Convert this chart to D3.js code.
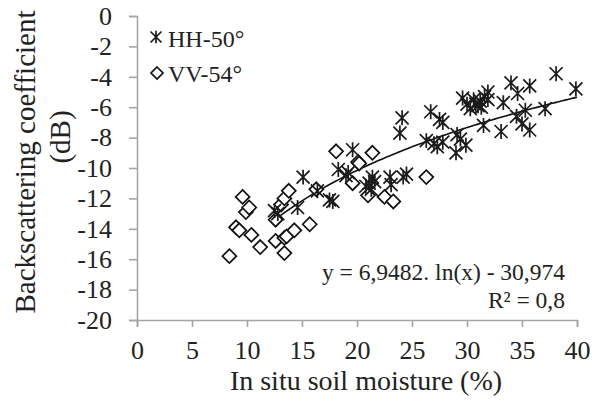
<!DOCTYPE html>
<html>
<head>
<meta charset="utf-8">
<script src="https://cdnjs.cloudflare.com/ajax/libs/d3/7.8.5/d3.min.js"></script>
<style>
body { margin:0; background:#fff; }
text { font-family: "Liberation Serif", "Times New Roman", serif; fill:#222; }
</style>
</head>
<body>
<script>
// HH-50 points [soil moisture %, dB]
var hhData = [
  [12.5,-12.8],[12.8,-13.0],[14.6,-12.6],[15.1,-10.6],[16.4,-11.5],[17.5,-12.1],[17.8,-12.2],
  [18.3,-10.1],[19.0,-10.5],[19.2,-10.3],[19.6,-8.8],[20.8,-11.2],[21.1,-11.0],[21.3,-11.4],
  [21.4,-10.6],[21.6,-10.9],[23.0,-10.6],[23.1,-11.1],[23.9,-7.7],[24.1,-6.7],[24.2,-10.6],
  [24.5,-10.4],[26.3,-8.2],[26.7,-6.3],[27.0,-8.4],[27.3,-8.6],[27.5,-6.8],[27.8,-7.0],
  [27.8,-8.3],[29.0,-9.0],[29.1,-7.8],[29.4,-8.1],[29.9,-8.5],[29.6,-5.4],[30.0,-5.8],
  [30.3,-6.1],[30.6,-5.5],[30.8,-5.8],[31.0,-5.9],[31.2,-5.6],[31.3,-6.0],[31.5,-7.2],
  [31.6,-5.3],[31.9,-5.0],[31.9,-5.5],[33.1,-7.6],[33.3,-5.7],[34.0,-4.4],[34.5,-6.6],
  [34.6,-5.1],[35.0,-7.1],[35.3,-6.2],[35.7,-4.6],[35.7,-7.5],[37.1,-6.1],[38.1,-3.8],[39.9,-4.8]
];
// VV-54 points
var vvData = [
  [8.4,-15.8],[9.0,-13.9],[9.3,-14.1],[9.6,-11.9],[9.9,-12.9],[10.2,-12.6],[10.4,-14.4],
  [11.2,-15.2],[12.6,-13.4],[12.6,-14.8],[13.1,-12.4],[13.4,-12.0],[13.4,-14.6],[13.4,-15.6],
  [13.6,-14.5],[13.8,-11.5],[14.3,-14.1],[15.7,-13.7],[16.3,-11.4],[18.1,-8.9],[19.6,-11.0],
  [20.1,-9.6],[20.2,-9.7],[21.0,-11.8],[21.4,-9.0],[22.5,-11.9],[23.3,-12.2],[26.3,-10.6]
];
var xTicks = [0,5,10,15,20,25,30,35,40];
var yTicks = [0,-2,-4,-6,-8,-10,-12,-14,-16,-18,-20];
var trendA = 6.9482, trendB = -30.974;
var seriesNames = ["HH-50°", "VV-54°"];
var eqLines = ["y = 6,9482. ln(x) - 30,974", "R² = 0,8"];

var W = 603, H = 407;
var plotL = 137, plotR = 577, plotT = 16, plotB = 320;

var svg = d3.select("body").append("svg").attr("width", W).attr("height", H);

var x = d3.scaleLinear().domain([0,40]).range([plotL,plotR]);
var y = d3.scaleLinear().domain([-20,0]).range([plotB,plotT]);

var axisColor = "#a6a6a6";

// axes
var gx = svg.append("g").attr("transform","translate(0,"+plotB+")")
    .call(d3.axisBottom(x).tickValues(xTicks).tickSize(7).tickPadding(14));
var gy = svg.append("g").attr("transform","translate("+plotL+",0)")
    .call(d3.axisLeft(y).tickValues(yTicks).tickSize(8).tickPadding(17)
      .tickFormat(function(d){ return d; }));
[gx,gy].forEach(function(g){
  g.select(".domain").attr("stroke",axisColor).attr("stroke-width",1.6);
  g.selectAll(".tick line").attr("stroke",axisColor).attr("stroke-width",1.6);
  g.selectAll(".tick text").attr("font-family","Liberation Serif").attr("font-size",26).attr("fill","#222");
});
gx.selectAll(".tick text").attr("dy","0.71em");

// trend line
var trendX = d3.range(d3.min(hhData,function(d){return d[0];}), 40.01, 0.25);
var line = d3.line()
    .x(function(d){ return x(d); })
    .y(function(d){ return y(trendA*Math.log(d)+trendB); });
svg.append("path").datum(trendX)
    .attr("d", line).attr("fill","none").attr("stroke","#111").attr("stroke-width",1.6);

// markers
function starPath(r){
  return "M"+(-r)+","+(-r)+"L"+r+","+r+"M"+r+","+(-r)+"L"+(-r)+","+r+"M0,"+(-r*1.15)+"L0,"+(r*1.15);
}
function diamondPath(r){
  return "M0,"+(-r)+"L"+r+",0L0,"+r+"L"+(-r)+",0Z";
}

svg.selectAll("path.vv")
    .data(vvData)
    .enter().append("path")
        .attr("class","vv")
        .attr("d", diamondPath(7))
        .attr("transform", function(d){ return "translate("+x(d[0])+","+y(d[1])+")"; })
        .attr("fill","#fff")
        .attr("stroke","#111")
        .attr("stroke-width",1.7);

svg.selectAll("path.hh")
    .data(hhData)
    .enter().append("path")
        .attr("class","hh")
        .attr("d", starPath(6.5))
        .attr("transform", function(d){ return "translate("+x(d[0])+","+y(d[1])+")"; })
        .attr("fill","none")
        .attr("stroke","#1a1a1a")
        .attr("stroke-width",1.7);

// legend
var legend = svg.append("g");
legend.append("path").attr("d", starPath(5.5)).attr("transform","translate(156,37)")
    .attr("stroke","#1a1a1a").attr("stroke-width",1.7).attr("fill","none");
legend.append("path").attr("d", diamondPath(6)).attr("transform","translate(157,73)")
    .attr("stroke","#111").attr("stroke-width",1.7).attr("fill","#fff");
legend.selectAll("text")
    .data(seriesNames)
    .enter().append("text")
        .attr("x",168)
        .attr("y",function(d,i){ return 47 + i*35; })
        .attr("font-size",24)
        .text(function(d){ return d; });

// equation
svg.append("g").selectAll("text")
    .data(eqLines)
    .enter().append("text")
        .attr("x",565)
        .attr("y",function(d,i){ return 280 + i*28; })
        .attr("text-anchor","end")
        .attr("font-size",23.5)
        .text(function(d){ return d; });

// axis titles
svg.append("text")
    .attr("x",366).attr("y",390)
    .attr("text-anchor","middle")
    .attr("font-size",28)
    .text("In situ soil moisture (%)");

svg.append("text")
    .attr("transform","translate(35,162) rotate(-90)")
    .attr("text-anchor","middle")
    .attr("font-size",29)
    .text("Backscattering coefficient");
svg.append("text")
    .attr("transform","translate(70,137) rotate(-90)")
    .attr("text-anchor","middle")
    .attr("font-size",29)
    .text("(dB)");
</script>
</body>
</html>
